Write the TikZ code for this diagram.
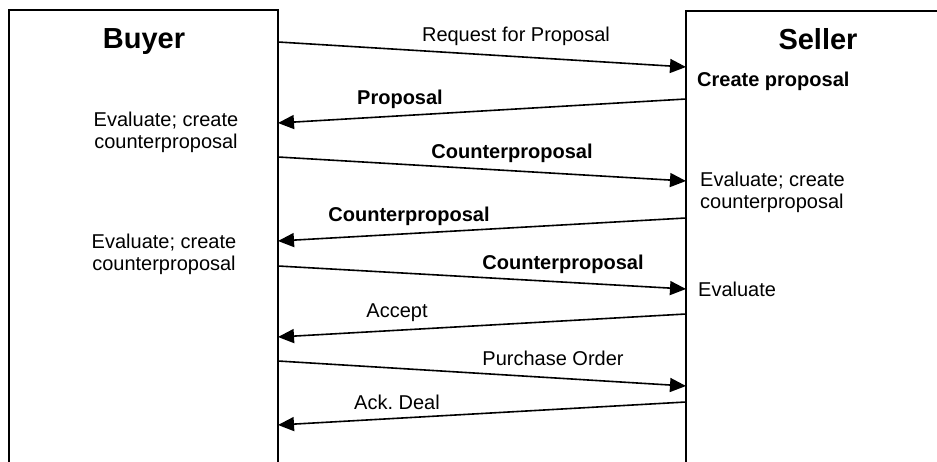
\documentclass[tikz,border=0pt]{standalone}
\usepackage{fontspec}
\setmainfont{Liberation Sans}
\usetikzlibrary{arrows.meta}
\frenchspacing
\begin{document}
\begin{tikzpicture}[x=1pt,y=-1pt,
  lane/.style={line width=1.8pt},
  msg/.style={line width=1.6pt,-{Triangle[length=16pt,width=14pt]}},
  lbl/.style={inner sep=0pt,anchor=base,font=\fontsize{20}{22}\selectfont},
  blbl/.style={inner sep=0pt,anchor=base,font=\fontsize{20}{22}\selectfont\bfseries},
  title/.style={inner sep=0pt,anchor=base,font=\fontsize{29}{32}\selectfont\bfseries},
  note/.style={inner sep=0pt,font=\fontsize{20}{22}\selectfont}]
  \useasboundingbox (0,0) rectangle (937,462);

  % party frames, open at the bottom
  \draw[lane] (9,462) -- (9,10) -- (278,10) -- (278,462);
  \draw[lane] (937,11) -- (686,11) -- (686,462);

  \node[title] (buyer) at (144,49) {Buyer};
  \node[title] (seller) at (818,50) {Seller};

  % message end points on the two lifelines
  \coordinate (b1) at (278,42);  \coordinate (s1) at (686,67);
  \coordinate (s2) at (686,99);  \coordinate (b2) at (278,123);
  \coordinate (b3) at (278,157); \coordinate (s3) at (686,181);
  \coordinate (s4) at (686,218); \coordinate (b4) at (278,241);
  \coordinate (b5) at (278,266); \coordinate (s5) at (686,289);
  \coordinate (s6) at (686,314); \coordinate (b6) at (278,337);
  \coordinate (b7) at (278,361); \coordinate (s7) at (686,386);
  \coordinate (s8) at (686,402); \coordinate (b8) at (278,425);

  \draw[msg] (b1) -- (s1);
  \draw[msg] (s2) -- (b2);
  \draw[msg] (b3) -- (s3);
  \draw[msg] (s4) -- (b4);
  \draw[msg] (b5) -- (s5);
  \draw[msg] (s6) -- (b6);
  \draw[msg] (b7) -- (s7);
  \draw[msg] (s8) -- (b8);

  % message labels
  \node[lbl]  (m1) at (516,42)  {Request for Proposal};
  \node[blbl] (m2) at (400,105) {Proposal};
  \node[blbl] (m3) at (512,159) {Counterproposal};
  \node[blbl] (m4) at (409,222) {Counterproposal};
  \node[blbl] (m5) at (563,270) {Counterproposal};
  \node[lbl]  (m6) at (397,317) {Accept};
  \node[lbl]  (m7) at (553,365) {Purchase Order};
  \node[lbl]  (m8) at (397,409) {Ack.\ Deal};

  % activity notes
  \node[blbl,anchor=base west] (a1) at (697,87) {Create proposal};
  \node[note,align=center] (a2) at (166,132.5) {Evaluate; create\\counterproposal};
  \node[note,align=left,anchor=west] (a3) at (700,192.5) {Evaluate; create\\counterproposal};
  \node[note,align=center] (a4) at (164,254.5) {Evaluate; create\\counterproposal};
  \node[lbl,anchor=base west] (a5) at (698,296.5) {Evaluate};
\end{tikzpicture}
\end{document}
